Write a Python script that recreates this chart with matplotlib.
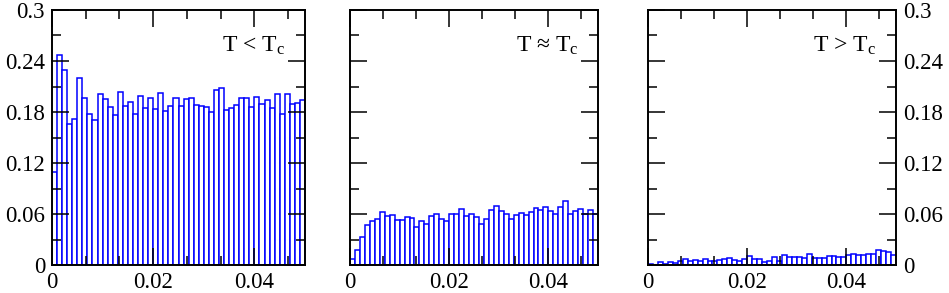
import numpy as np
import matplotlib
matplotlib.use('Agg')
import matplotlib.pyplot as plt
from matplotlib.ticker import MultipleLocator, FuncFormatter

# plt settings
plt.rcParams['font.family'] = 'Liberation Serif'
plt.rcParams['mathtext.default'] = 'regular'

# histogram heights, 50 bins of width 0.001 on [0, 0.05]
bin_width = 0.001
below_tc = [0.110, 0.247, 0.230, 0.166, 0.172, 0.220, 0.197, 0.178, 0.171, 0.201,
            0.195, 0.186, 0.176, 0.204, 0.187, 0.192, 0.178, 0.199, 0.185, 0.197,
            0.184, 0.202, 0.181, 0.187, 0.196, 0.187, 0.195, 0.197, 0.188, 0.187,
            0.186, 0.180, 0.206, 0.208, 0.182, 0.185, 0.188, 0.196, 0.196, 0.186,
            0.198, 0.190, 0.194, 0.185, 0.201, 0.178, 0.201, 0.189, 0.191, 0.194]
near_tc = [0.0067, 0.0176, 0.0330, 0.0467, 0.0522, 0.0545, 0.0627, 0.0573, 0.0584, 0.0525,
           0.0525, 0.0569, 0.0557, 0.0443, 0.0522, 0.0482, 0.0576, 0.0604, 0.0545, 0.0518,
           0.0596, 0.0600, 0.0659, 0.0576, 0.0600, 0.0569, 0.0482, 0.0545, 0.0651, 0.0698,
           0.0631, 0.0600, 0.0541, 0.0592, 0.0616, 0.0588, 0.0620, 0.0671, 0.0647, 0.0686,
           0.0631, 0.0600, 0.0678, 0.0753, 0.0596, 0.0631, 0.0663, 0.0600, 0.0647, 0.0600]
above_tc = [0.0010, 0.0005, 0.0035, 0.0016, 0.0039, 0.0027, 0.0047, 0.0071, 0.0043, 0.0063,
            0.0043, 0.0067, 0.0043, 0.0043, 0.0059, 0.0071, 0.0082, 0.0059, 0.0043, 0.0075,
            0.0110, 0.0075, 0.0071, 0.0040, 0.0051, 0.0090, 0.0051, 0.0114, 0.0094, 0.0098,
            0.0090, 0.0082, 0.0125, 0.0082, 0.0082, 0.0082, 0.0102, 0.0102, 0.0094, 0.0094,
            0.0114, 0.0133, 0.0114, 0.0114, 0.0125, 0.0125, 0.0172, 0.0160, 0.0149, 0.0120]
labels = ['T < T$_c$', 'T \u2248 T$_c$', 'T > T$_c$']

W, H = 949, 293
# axes boxes in pixels: left, right
boxes = [(52, 305), (350, 598), (648, 896)]
top_px, bottom_px = 10, 265

fig = plt.figure(figsize=(W / 100, H / 100), dpi=100)

def fmt(v, pos):
    return '%g' % round(v, 4)

for i, (vals, lab) in enumerate(zip([below_tc, near_tc, above_tc], labels)):
    l, r = boxes[i]
    ax = fig.add_axes([l / W, (H - bottom_px) / H, (r - l) / W, (bottom_px - top_px) / H])
    edges = np.arange(len(vals)) * bin_width
    ax.bar(edges, vals, width=bin_width, align='edge', facecolor='white',
           edgecolor='#0000ff', linewidth=1.1)
    ax.set_xlim(0, 0.05)
    ax.set_ylim(0, 0.3)
    ax.xaxis.set_major_locator(MultipleLocator(0.02))
    ax.xaxis.set_minor_locator(MultipleLocator(0.02 / 3))
    ax.yaxis.set_major_locator(MultipleLocator(0.06))
    ax.yaxis.set_minor_locator(MultipleLocator(0.03))
    ax.xaxis.set_major_formatter(FuncFormatter(fmt))
    ax.yaxis.set_major_formatter(FuncFormatter(fmt))
    ax.tick_params(which='both', direction='in', top=True, right=True, width=1.1,
                   labelsize=16.5, pad=5)
    ax.tick_params(which='major', length=12)
    ax.tick_params(which='minor', length=6.5)
    ax.tick_params(axis='y', labelleft=(i == 0), labelright=(i == 2))
    for s in ax.spines.values():
        s.set_linewidth(1.4)
    ax.text(0.92, 0.86, lab, transform=ax.transAxes, ha='right', va='center',
            fontsize=17)

fig.savefig('out.png', dpi=100)
